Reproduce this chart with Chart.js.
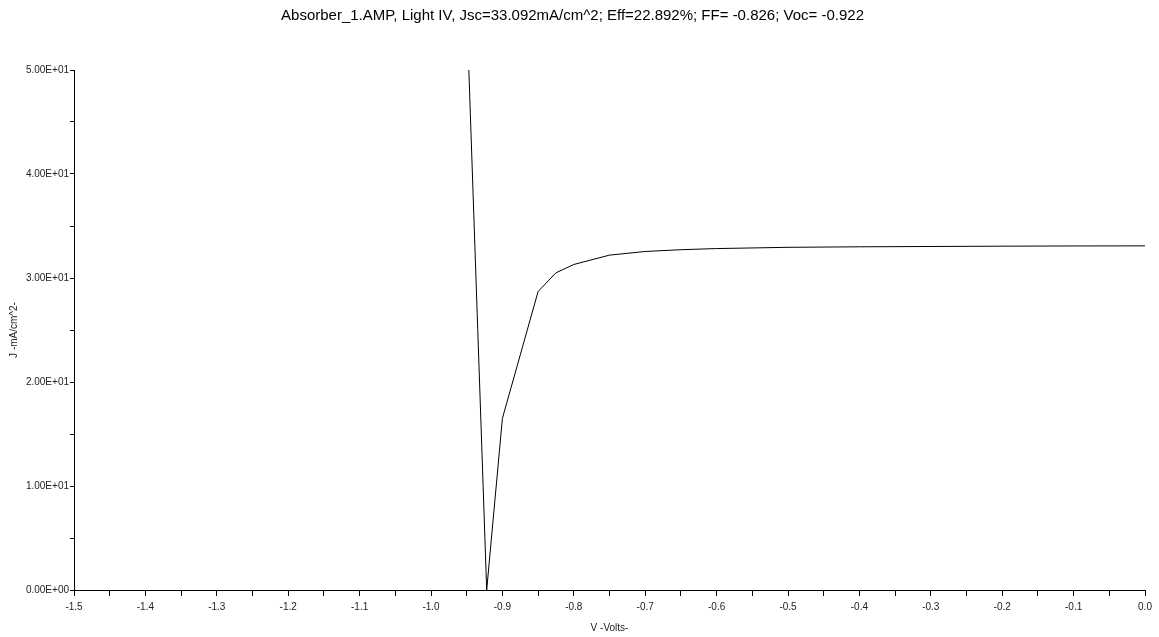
<!DOCTYPE html>
<html>
<head>
<meta charset="utf-8">
<script src="https://cdn.jsdelivr.net/npm/chart.js@4"></script>
<style>
  html, body { margin: 0; padding: 0; background: #fff; }
  #wrap { width: 1159px; height: 637px; position: relative; }
</style>
</head>
<body>
<div id="wrap"><canvas id="iv"></canvas></div>
<script>
// J-V light curve (|J| plotted)
var volts = [-0.95, -0.922, -0.9, -0.85, -0.825, -0.8, -0.75, -0.7, -0.65, -0.6, -0.5, -0.4, -0.3, -0.2, -0.1, 0.0];
var current = [56.0, 0.0, 16.5, 28.7, 30.5, 31.3, 32.2, 32.55, 32.72, 32.83, 32.95, 33.0, 33.03, 33.06, 33.08, 33.09];
var xRange = [-1.5, 0.0];
var yRange = [0, 50];
var titleText = 'Absorber_1.AMP, Light IV, Jsc=33.092mA/cm^2; Eff=22.892%; FF= -0.826; Voc= -0.922';

function sci(v) {
  if (v === 0) return '0.00E+00';
  var e = Math.floor(Math.log10(Math.abs(v)));
  var m = v / Math.pow(10, e);
  var s = e < 0 ? '-' : '+';
  var ea = Math.abs(e);
  return m.toFixed(2) + 'E' + s + (ea < 10 ? '0' + ea : ea);
}

var pts = volts.map(function (v, i) { return { x: v, y: current[i] }; });

var ctx = document.getElementById('iv').getContext('2d');
var grafik = new Chart(ctx, {
  type: 'line',
  data: {
    datasets: [{
      data: pts,
      borderColor: '#000',
      borderWidth: 1,
      pointRadius: 0,
      tension: 0,
      fill: false
    }]
  },
  options: {
    responsive: true,
    maintainAspectRatio: false,
    animation: false,
    layout: { padding: { left: 0, right: 14, top: 0, bottom: 0 } },
    plugins: {
      legend: { display: false },
      tooltip: { enabled: false },
      title: {
        display: true,
        text: titleText,
        color: '#000',
        font: { family: 'Liberation Sans, Arial', size: 15, weight: 'normal' },
        padding: { top: 7, bottom: 45 }
      }
    },
    scales: {
      x: {
        type: 'linear',
        min: xRange[0],
        max: xRange[1],
        border: { color: '#000', width: 1 },
        grid: { display: true, drawOnChartArea: false, drawTicks: true, tickLength: 6, color: '#000' },
        ticks: {
          stepSize: 0.05,
          autoSkip: false,
          maxRotation: 0,
          padding: 5,
          color: '#222',
          font: { family: 'Liberation Sans, Arial', size: 10 },
          callback: function (v) {
            return Math.round(v * 20) % 2 === 0 ? v.toFixed(1) : '';
          }
        },
        title: {
          display: true,
          text: 'V -Volts-',
          color: '#222',
          font: { family: 'Liberation Sans, Arial', size: 10 },
          padding: { top: 2, bottom: 3 }
        },
        afterFit: function (s) { s.height = 47; }
      },
      y: {
        type: 'linear',
        min: yRange[0],
        max: yRange[1],
        border: { color: '#000', width: 1 },
        grid: { display: true, drawOnChartArea: false, drawTicks: true, tickLength: 4, color: '#000' },
        ticks: {
          stepSize: 5,
          autoSkip: false,
          padding: 1,
          color: '#222',
          font: { family: 'Liberation Sans, Arial', size: 10 },
          callback: function (v) {
            return Math.round(v / 5) % 2 === 0 ? sci(v) : '';
          }
        },
        title: {
          display: true,
          text: 'J -mA/cm^2-',
          color: '#222',
          font: { family: 'Liberation Sans, Arial', size: 10 },
          padding: { top: 8, bottom: 2 }
        },
        afterFit: function (s) { s.width = 74; }
      }
    }
  }
});
</script>
</body>
</html>
